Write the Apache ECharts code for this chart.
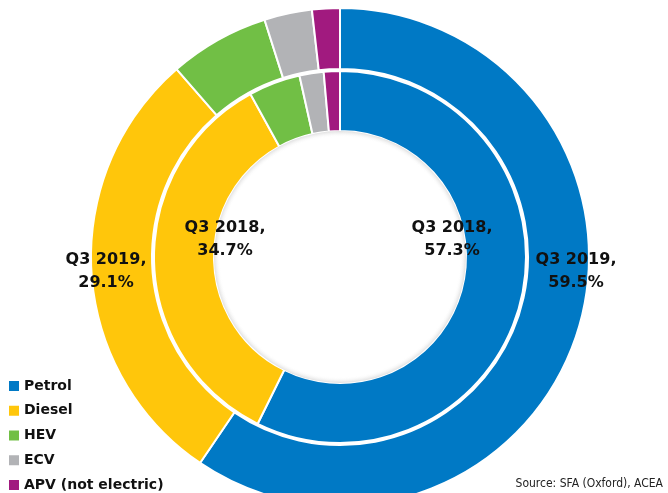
<!DOCTYPE html>
<html><head><meta charset="utf-8">
<script src="https://cdn.jsdelivr.net/npm/echarts@6/dist/echarts.min.js"></script>
<style>html,body{margin:0;padding:0;background:#fff}#c{width:668px;height:493px}</style>
</head><body><div id="c"></div>
<script>
const categories = ['Petrol','Diesel','HEV','ECV','APV (not electric)'];
const colors = ['#0079C5','#FFC60B','#71BF45','#B2B3B6','#A11A7F'];
const values2018 = [57.3, 34.7, 4.5, 2.1, 1.4];
const values2019 = [59.5, 29.1, 6.5, 3.1, 1.8];
const periods = ['Q3 2018','Q3 2019'];
const sourceText = 'Source: SFA (Oxford), ACEA';

const chart = echarts.init(document.getElementById('c'), null, {renderer:'canvas'});
const mk = vals => vals.map((v,i)=>({name:categories[i], value:v, itemStyle:{color:colors[i]}}));
const lbl = (p, v) => p + ',\n' + v.toFixed(1) + '%';
const lblStyle = {fill:'#111', font:'bold 16px "DejaVu Sans", sans-serif', align:'center', verticalAlign:'middle', lineHeight:23};
chart.setOption({
  animation:false,
  legend:{orient:'vertical', left:2, top:373, height:130, itemWidth:12, itemHeight:12, itemGap:8.75, icon:'rect',
    data:categories, textStyle:{fontSize:14, lineHeight:16, fontWeight:'bold', color:'#111', fontFamily:'"DejaVu Sans", sans-serif', padding:[0,0,0,-1]}},
  series:[
    {type:'pie', name:periods[0], center:[340,257], radius:[126,186], startAngle:90, clockwise:true,
     label:{show:false}, labelLine:{show:false}, emphasis:{disabled:true}, silent:true,
     itemStyle:{borderColor:'#fff', borderWidth:2}, data:mk(values2018)},
    {type:'pie', name:periods[1], center:[340,257], radius:[188,249], startAngle:90, clockwise:true,
     label:{show:false}, labelLine:{show:false}, emphasis:{disabled:true}, silent:true,
     itemStyle:{borderColor:'#fff', borderWidth:2}, data:mk(values2019)}
  ],
  graphic:[
    {type:'circle', shape:{cx:340, cy:257, r:126}, silent:true, z:5,
     style:{fill:new echarts.graphic.RadialGradient(0.5,0.5,0.5,[{offset:0,color:'rgba(255,255,255,0)'},{offset:0.95,color:'rgba(255,255,255,0)'},{offset:1,color:'rgba(0,0,0,0.12)'}])}},
    {type:'text', x:452, y:239, z:10, style:Object.assign({text:lbl(periods[0], values2018[0])}, lblStyle)},
    {type:'text', x:225, y:239, z:10, style:Object.assign({text:lbl(periods[0], values2018[1])}, lblStyle)},
    {type:'text', x:576, y:271, z:10, style:Object.assign({text:lbl(periods[1], values2019[0])}, lblStyle)},
    {type:'text', x:106, y:271, z:10, style:Object.assign({text:lbl(periods[1], values2019[1])}, lblStyle)},
    {type:'text', right:5, top:478, z:10, style:{text:sourceText, fill:'#222', font:'12px "Liberation Sans Narrow", "DejaVu Sans Condensed", sans-serif'}}
  ]
});
</script></body></html>
